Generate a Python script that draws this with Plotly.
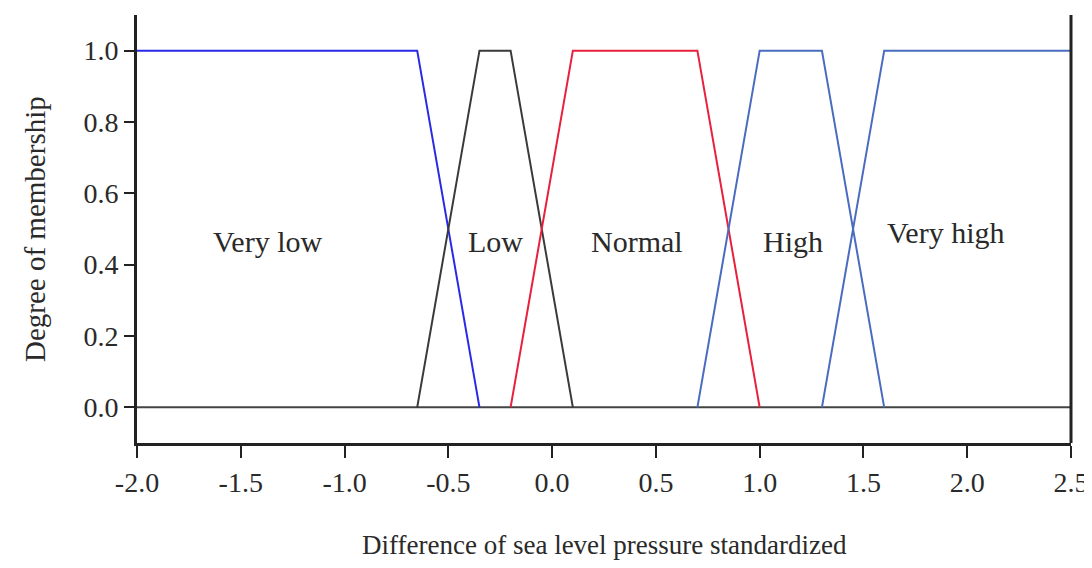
import plotly.graph_objects as go

# Membership functions (x breakpoints, y values)
very_low_x = [-2.0, -0.65, -0.35]
very_low_y = [1.0, 1.0, 0.0]
low_x = [-0.65, -0.35, -0.2, 0.1]
low_y = [0.0, 1.0, 1.0, 0.0]
normal_x = [-0.2, 0.1, 0.7, 1.0]
normal_y = [0.0, 1.0, 1.0, 0.0]
high_x = [0.7, 1.0, 1.3, 1.6]
high_y = [0.0, 1.0, 1.0, 0.0]
very_high_x = [1.3, 1.6, 2.5]
very_high_y = [0.0, 1.0, 1.0]

label_text = ["Very low", "Low", "Normal", "High", "Very high"]
label_x = [-1.373, -0.273, 0.407, 1.160, 1.893]
label_y = [0.464, 0.464, 0.464, 0.464, 0.489]

x_ticks = [-2.0, -1.5, -1.0, -0.5, 0.0, 0.5, 1.0, 1.5, 2.0, 2.5]
x_tick_text = ["-2.0", "-1.5", "-1.0", "-0.5", "0.0", "0.5", "1.0", "1.5", "2.0", "2.5"]
y_ticks = [0.0, 0.2, 0.4, 0.6, 0.8, 1.0]
y_tick_text = ["0.0", "0.2", "0.4", "0.6", "0.8", "1.0"]

font_family = "Liberation Serif"
text_color = "#2a2a2a"

fig = go.Figure()
# zero line
fig.add_trace(go.Scatter(x=[-2.0, 2.5], y=[0, 0], mode="lines",
                         line=dict(color="#444444", width=2), showlegend=False, hoverinfo="skip"))
series = [
    (very_low_x, very_low_y, "#2a2ae6"),
    (low_x, low_y, "#3a3a3a"),
    (normal_x, normal_y, "#e8203c"),
    (high_x, high_y, "#4a6cc0"),
    (very_high_x, very_high_y, "#4a6cc0"),
]
for xs, ys, c in series:
    fig.add_trace(go.Scatter(x=xs, y=ys, mode="lines", line=dict(color=c, width=2),
                             showlegend=False))

for t, x, y in zip(label_text, label_x, label_y):
    fig.add_annotation(x=x, y=y, text=t, showarrow=False, xanchor="center", yanchor="middle",
                       font=dict(family=font_family, size=30, color=text_color))

fig.add_annotation(xref="paper", yref="paper", x=0.5, y=0, yshift=-102,
                   xanchor="center", yanchor="middle",
                   text="Difference of sea level pressure standardized", showarrow=False,
                   font=dict(family=font_family, size=27, color=text_color))
fig.add_annotation(xref="paper", yref="paper", x=0, y=0.5, xshift=-102,
                   xanchor="center", yanchor="middle",
                   text="Degree of membership", showarrow=False, textangle=-90,
                   font=dict(family=font_family, size=29, color=text_color))

fig.update_layout(
    width=1084, height=552,
    margin=dict(l=129, r=21, t=7, b=117, autoexpand=False),
    paper_bgcolor="white", plot_bgcolor="white",
    font=dict(family=font_family, size=28, color=text_color),
)
fig.update_xaxes(range=[-2.0, 2.5], tickvals=x_ticks, ticktext=x_tick_text,
                 ticklabeloverflow="allow", automargin=False,
                 showgrid=False, zeroline=False, showline=True, linecolor="#222222",
                 linewidth=3, ticks="outside", ticklen=12, tickwidth=2, tickcolor="#222222",
                 mirror=False)
fig.update_yaxes(range=[-0.1, 1.1], tickvals=y_ticks, ticktext=y_tick_text,
                 automargin=False,
                 showgrid=False, zeroline=False, showline=True, linecolor="#222222",
                 linewidth=3, ticks="outside", ticklen=10, tickwidth=2, tickcolor="#222222")
# right border line
fig.add_shape(type="line", xref="paper", yref="paper", x0=1, x1=1, y0=0, y1=1,
              line=dict(color="#222222", width=3))

fig.write_html("out.html")
